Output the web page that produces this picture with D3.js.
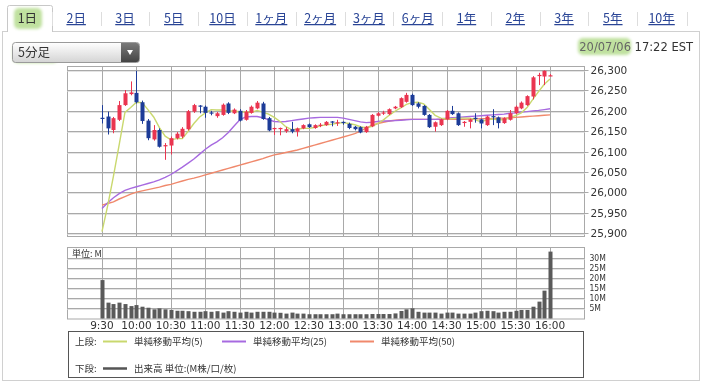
<!DOCTYPE html>
<html><head><meta charset="utf-8">
<script src="https://cdn.jsdelivr.net/npm/d3@7"></script>
<style>body{margin:0;background:#fff;} svg{display:block;}</style>
</head><body><svg id="c" width="706" height="382"></svg>
<script>
// ---------- data ----------
const tabs = ["1日","2日","3日","5日","10日","1ヶ月","2ヶ月","3ヶ月","6ヶ月","1年","2年","3年","5年","10年"];
const intervalLabel = "5分足";
const dateLabel = "20/07/06";
const timeLabel = "17:22 EST";
const xTickLabels = ["9:30","10:00","10:30","11:00","11:30","12:00","12:30","13:00","13:30","14:00","14:30","15:00","15:30","16:00"];
const yTicks = [25900,25950,26000,26050,26100,26150,26200,26250,26300];
const volTicks = [5,10,15,20,25,30];
const opens  = [26183,26186,26153,26178,26214,26241,26244,26221,26176,26130,26153,26113,26115,26133,26137,26155,26198,26213,26210,26196,26187,26190,26218,26194,26200,26178,26195,26206,26218,26182,26156,26156,26150,26155,26149,26157,26167,26158,26164,26165,26174,26170,26173,26168,26161,26160,26148,26162,26188,26193,26192,26206,26209,26222,26239,26218,26212,26190,26161,26165,26179,26200,26194,26171,26173,26183,26179,26165,26187,26184,26170,26178,26194,26206,26214,26235,26285,26284,26286];
const highs  = [26214,26198,26185,26224,26251,26272,26298,26225,26180,26165,26157,26121,26137,26148,26160,26202,26217,26214,26213,26200,26197,26218,26221,26206,26204,26202,26213,26224,26222,26185,26159,26159,26160,26173,26159,26167,26169,26167,26170,26175,26175,26178,26174,26171,26163,26162,26163,26192,26197,26200,26206,26212,26233,26244,26242,26221,26214,26192,26174,26181,26202,26212,26196,26175,26181,26194,26181,26188,26204,26186,26184,26202,26213,26223,26238,26285,26293,26299,26290];
const lows   = [26169,26142,26145,26175,26212,26238,26218,26168,26128,26127,26110,26080,26093,26130,26133,26152,26195,26194,26183,26189,26183,26188,26192,26192,26174,26176,26193,26204,26178,26150,26141,26140,26146,26145,26137,26155,26158,26156,26160,26163,26162,26163,26166,26155,26152,26145,26146,26160,26186,26190,26190,26204,26207,26220,26212,26206,26188,26158,26149,26163,26177,26190,26163,26161,26157,26171,26157,26163,26165,26157,26168,26176,26192,26204,26212,26228,26263,26263,26285];
const closes = [26182,26157,26182,26214,26243,26245,26221,26175,26133,26153,26112,26116,26133,26144,26156,26199,26214,26212,26195,26194,26194,26215,26195,26203,26176,26198,26210,26220,26180,26152,26158,26158,26155,26149,26157,26165,26160,26165,26166,26173,26172,26172,26171,26158,26155,26147,26161,26190,26194,26196,26204,26210,26231,26239,26214,26210,26190,26160,26172,26179,26200,26192,26165,26173,26179,26181,26169,26186,26185,26170,26182,26194,26210,26220,26236,26282,26288,26298,26287];
const ma5  = [25904,25968,26040,26117,26196,26208,26221,26220,26203,26185,26159,26138,26129,26132,26132,26150,26169,26185,26195,26203,26202,26202,26199,26200,26197,26197,26196,26201,26197,26192,26184,26174,26161,26154,26155,26157,26157,26159,26163,26166,26167,26170,26171,26169,26166,26161,26158,26162,26169,26178,26189,26199,26207,26216,26220,26221,26217,26203,26189,26182,26180,26181,26182,26182,26182,26178,26173,26178,26180,26178,26178,26183,26188,26195,26208,26228,26247,26265,26278];
const ma25 = [25961,25975,25987,25997,26005,26010,26014,26018,26022,26026,26031,26037,26044,26053,26062,26072,26082,26094,26106,26116,26124,26134,26147,26163,26178,26185,26186,26186,26183,26178,26174,26173,26174,26176,26178,26180,26182,26183,26184,26184,26184,26184,26182,26179,26176,26173,26171,26172,26174,26175,26175,26176,26177,26178,26179,26179,26179,26179,26179,26180,26182,26183,26184,26185,26186,26187,26188,26189,26190,26191,26192,26194,26195,26197,26198,26200,26201,26203,26205];
const ma50 = [25969,25973,25977,25984,25990,25996,26001,26004,26007,26010,26013,26017,26020,26024,26028,26032,26035,26039,26043,26047,26051,26055,26059,26063,26067,26071,26075,26079,26083,26088,26092,26095,26098,26101,26104,26108,26112,26116,26120,26124,26128,26132,26136,26140,26144,26150,26158,26164,26169,26172,26175,26177,26178,26179,26179,26179,26179,26179,26179,26179,26179,26179,26179,26179,26180,26180,26181,26181,26181,26182,26182,26183,26184,26185,26186,26187,26188,26189,26190];
const volumes = [18.9,7.8,7.1,7.8,7.1,6.1,6.6,5.8,5.3,4.5,5.0,4.5,4.2,3.8,3.8,3.6,3.3,3.3,3.6,3.3,3.6,2.9,3.6,3.3,2.9,3.3,2.9,3.3,3.3,3.3,2.9,2.8,2.4,2.9,2.4,2.4,2.1,2.1,2.1,2.1,2.1,2.4,2.1,2.1,2.1,2.1,2.1,2.2,2.2,2.2,2.2,2.5,3.7,4.5,5.0,3.3,2.9,2.9,2.9,2.4,2.9,2.9,2.4,2.4,2.4,2.9,3.6,3.8,3.6,2.9,3.3,3.3,3.8,4.2,4.2,5.8,8.3,13.7,32.9];
const legendTop = [["単純移動平均(5)","#c9d86e"],["単純移動平均(25)","#a76ae0"],["単純移動平均(50)","#f0896c"]];
const legendBottom = "出来高 単位:(M株/口/枚)";

// ---------- layout ----------
const svg = d3.select("#c");
const JP = "'Noto Sans CJK JP','Noto Sans',sans-serif";
const NUM = "'DejaVu Sans',sans-serif";
const NUMC = "'DejaVu Sans Condensed','DejaVu Sans',sans-serif";
const L = 67.5, R = 584.5;
const mainTop = 66, mainBot = 236, volTop = 247, volBot = 318.5;
const UP = "#ea3550", DOWN = "#1d3c98";

const barMin = i => 30 + 5 * i;
const parseMin = s => { const [h, m] = s.split(":").map(Number); return (h - 9) * 60 + m; };
const x = d3.scaleLinear().domain([0, 450]).range([L, R]);
const y = d3.scaleLinear().domain([25900, 26300]).range([233.3, 70]);
const yv = d3.scaleLinear().domain([0, 30]).range([volBot, 257.5]);

const defs = svg.append("defs");
defs.append("filter").attr("id", "blur").append("feGaussianBlur").attr("stdDeviation", 1.6);
const g1 = defs.append("linearGradient").attr("id", "dd").attr("x1", 0).attr("y1", 0).attr("x2", 0).attr("y2", 1);
g1.append("stop").attr("offset", 0).attr("stop-color", "#ffffff");
g1.append("stop").attr("offset", 1).attr("stop-color", "#d4d4d4");
const g2 = defs.append("linearGradient").attr("id", "btn").attr("x1", 0).attr("y1", 0).attr("x2", 0).attr("y2", 1);
g2.append("stop").attr("offset", 0).attr("stop-color", "#7a7a7a");
g2.append("stop").attr("offset", 1).attr("stop-color", "#444");

// ---------- outer frame & tabs ----------
svg.append("rect").attr("x", 2.5).attr("y", 31.5).attr("width", 697).attr("height", 349)
  .attr("fill", "#fff").attr("stroke", "#d0d0d0");
const tb = d3.scaleBand().domain(tabs).range([3, 686]);
svg.append("path").attr("d", `M7.5,32 V7.5 Q7.5,5.5 9.5,5.5 H50.5 Q52.5,5.5 52.5,7.5 V32`)
  .attr("fill", "#fff").attr("stroke", "#c8c8c8");
svg.append("line").attr("x1", 8).attr("x2", 52).attr("y1", 31.5).attr("y2", 31.5).attr("stroke", "#fff").attr("stroke-width", 1.5);
const hl = [[14, 8, 28, 21], [13, 44, 45, 19], [578, 38, 53, 17]];
svg.append("g").attr("filter", "url(#blur)").selectAll("rect").data(hl).join("rect")
  .attr("x", d => d[0]).attr("y", d => d[1]).attr("width", d => d[2]).attr("height", d => d[3])
  .attr("rx", 5).attr("fill", "#b5dc8e").attr("opacity", 0.85);
tabs.forEach((t, i) => {
  const cx = tb(t) + tb.bandwidth() / 2;
  svg.append("text").attr("x", cx).attr("y", 23).attr("text-anchor", "middle")
    .attr("font-family", JP).attr("font-size", 12.5)
    .attr("fill", i === 0 ? "#333" : "#2a4596")
    .attr("text-decoration", i === 0 ? "none" : "underline").text(t);
  if (i > 0) {
    svg.append("line").attr("x1", Math.round(tb(t)) + 0.5).attr("x2", Math.round(tb(t)) + 0.5)
      .attr("y1", 12).attr("y2", 26).attr("stroke", "#ddd");
  }
});
svg.append("line").attr("x1", 687.5).attr("x2", 687.5).attr("y1", 12).attr("y2", 26).attr("stroke", "#ddd");

svg.append("rect").attr("x", 12.5).attr("y", 42.5).attr("width", 127).attr("height", 20).attr("rx", 3)
  .attr("fill", "url(#dd)").attr("stroke", "#9a9a9a");
svg.append("path").attr("d", "M121,43 H136.5 Q139,43 139,45.5 V60 Q139,62 136.5,62 H121 Z").attr("fill", "url(#btn)");
svg.append("path").attr("d", "M127,50 L133,50 L130,55 Z").attr("fill", "#fff");
svg.append("text").attr("x", 18).attr("y", 57).attr("font-family", JP).attr("font-size", 12.5).attr("fill", "#333").text(intervalLabel);
const dt = svg.append("text").attr("x", 693).attr("y", 51).attr("text-anchor", "end").attr("font-family", NUM)
  .attr("font-size", 11.5);
dt.append("tspan").attr("fill", "#666").text(dateLabel + " ");
dt.append("tspan").attr("fill", "#333").text(timeLabel);

// ---------- grids ----------
function hgrid(yy, x2) {
  const yr = Math.round(yy) + 0.5;
  svg.append("line").attr("x1", L).attr("x2", x2).attr("y1", yr).attr("y2", yr).attr("stroke", "#a9a9a9");
  svg.append("line").attr("x1", L).attr("x2", R).attr("y1", yr + 1).attr("y2", yr + 1).attr("stroke", "#e4e4e4");
}
const tickMins = xTickLabels.map(parseMin);
svg.append("rect").attr("x", L).attr("y", mainTop + 0.5).attr("width", R - L).attr("height", mainBot - mainTop)
  .attr("fill", "none").attr("stroke", "#a9a9a9");
yTicks.forEach(v => hgrid(y(v), R + 4));
tickMins.forEach(m => {
  const xx = Math.round(x(m)) + 0.5;
  svg.append("line").attr("x1", xx).attr("x2", xx).attr("y1", mainTop).attr("y2", mainBot).attr("stroke", "#a9a9a9");
});
svg.append("g").selectAll("text").data(yTicks).join("text")
  .attr("x", R + 6).attr("y", d => y(d) + 4).attr("font-family", NUM).attr("font-size", 10.5)
  .attr("fill", "#333").text(d => d3.format(",")(d));

svg.append("rect").attr("x", L).attr("y", volTop + 0.5).attr("width", R - L).attr("height", volBot - volTop)
  .attr("fill", "none").attr("stroke", "#a9a9a9");
volTicks.forEach(v => hgrid(yv(v), R));
tickMins.forEach(m => {
  const xx = Math.round(x(m)) + 0.5;
  svg.append("line").attr("x1", xx).attr("x2", xx).attr("y1", volTop).attr("y2", volBot).attr("stroke", "#a9a9a9");
});
svg.append("g").selectAll("text").data(volTicks).join("text")
  .attr("x", R + 5).attr("y", d => yv(d) + 3).attr("font-family", NUMC).attr("font-size", 8.5)
  .attr("fill", "#333").text(d => d + "M");
svg.append("text").attr("x", 72).attr("y", 257).attr("font-family", JP).attr("font-size", 9).attr("fill", "#333").text("単位: M");

svg.append("g").selectAll("text").data(xTickLabels).join("text")
  .attr("x", d => x(parseMin(d))).attr("y", 329).attr("text-anchor", "middle")
  .attr("font-family", NUM).attr("font-size", 10.5).attr("fill", "#333").text(d => d);

// ---------- volume bars ----------
svg.append("g").selectAll("rect").data(volumes).join("rect")
  .attr("x", (d, i) => Math.round(x(barMin(i))) - 1.5).attr("width", 4)
  .attr("y", d => yv(d)).attr("height", d => volBot - yv(d)).attr("fill", "#5a5a5a");

// ---------- MA lines ----------
[[ma50, legendTop[2][1]], [ma25, legendTop[1][1]], [ma5, legendTop[0][1]]].forEach(([arr, col]) => {
  svg.append("path").datum(arr)
    .attr("d", d3.line().x((d, i) => x(barMin(i))).y(d => y(d)))
    .attr("fill", "none").attr("stroke", col).attr("stroke-width", 1.4);
});

// ---------- candles ----------
const cg = svg.append("g");
closes.forEach((c, i) => {
  const o = opens[i], col = c >= o ? UP : DOWN;
  const xx = Math.round(x(barMin(i)));
  cg.append("line").attr("x1", xx + 0.5).attr("x2", xx + 0.5).attr("y1", y(highs[i])).attr("y2", y(lows[i]))
    .attr("stroke", col).attr("stroke-width", 1);
  const top = y(Math.max(o, c)), h = Math.max(1.2, Math.abs(y(o) - y(c)));
  cg.append("rect").attr("x", xx - 1.5).attr("width", 4).attr("y", top).attr("height", h).attr("fill", col);
});

// ---------- legend ----------
svg.append("rect").attr("x", 68.5).attr("y", 331.5).attr("width", 515).attr("height", 46)
  .attr("fill", "#fff").attr("stroke", "#555");
svg.append("text").attr("x", 75).attr("y", 345).attr("font-family", JP).attr("font-size", 9.5).attr("fill", "#333").text("上段:");
const lx = [103, 222, 350];
legendTop.forEach((d, i) => {
  svg.append("line").attr("x1", lx[i]).attr("x2", lx[i] + 24).attr("y1", 341.5).attr("y2", 341.5).attr("stroke", d[1]).attr("stroke-width", 2);
  svg.append("text").attr("x", lx[i] + 31).attr("y", 345).attr("font-family", JP).attr("font-size", 9.5).attr("fill", "#333").text(d[0]);
});
svg.append("text").attr("x", 75).attr("y", 372).attr("font-family", JP).attr("font-size", 9.5).attr("fill", "#333").text("下段:");
svg.append("line").attr("x1", 103).attr("x2", 127).attr("y1", 368.5).attr("y2", 368.5).attr("stroke", "#555").attr("stroke-width", 2.5);
svg.append("text").attr("x", 134).attr("y", 372).attr("font-family", JP).attr("font-size", 9.5).attr("fill", "#333").text(legendBottom);
</script></body></html>
